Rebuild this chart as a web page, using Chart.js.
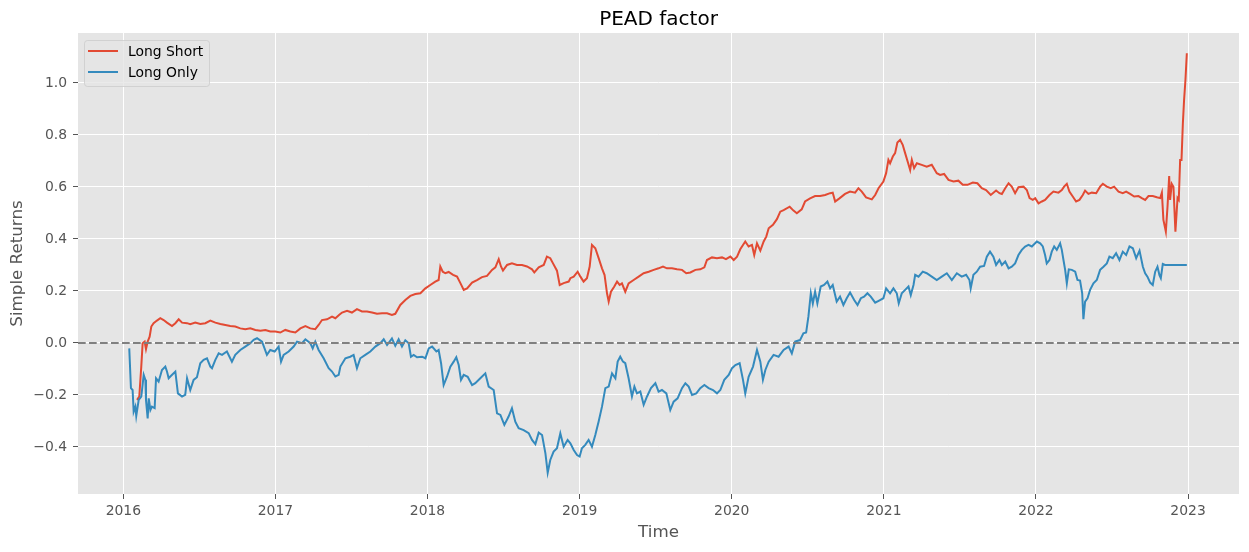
<!DOCTYPE html>
<html>
<head>
<meta charset="utf-8">
<script src="https://cdn.jsdelivr.net/npm/chart.js@4.4.1/dist/chart.umd.min.js"></script>
<style>
  body { margin: 0; background: #fff; }
</style>
</head>
<body>
<canvas id="canvas" width="1249" height="552"></canvas>
<script>
// time in decimal years, returns
var longShortTime = [
  2016.090,2016.105,2016.118,2016.127,2016.140,2016.149,2016.160,2016.173,2016.184,2016.199,
  2016.221,2016.243,2016.265,2016.287,2016.320,2016.342,2016.364,2016.386,2016.419,2016.440,
  2016.473,2016.506,2016.539,2016.572,2016.605,2016.638,2016.671,2016.703,2016.736,2016.769,
  2016.802,2016.835,2016.868,2016.901,2016.934,2016.966,2016.999,2017.032,2017.065,2017.098,
  2017.131,2017.164,2017.197,2017.229,2017.262,2017.284,2017.306,2017.339,2017.372,2017.394,
  2017.420,2017.438,2017.471,2017.503,2017.536,2017.569,2017.602,2017.635,2017.668,2017.701,
  2017.734,2017.766,2017.788,2017.821,2017.854,2017.887,2017.920,2017.953,2017.986,2018.018,
  2018.051,2018.073,2018.084,2018.100,2018.117,2018.139,2018.168,2018.194,2018.216,2018.238,
  2018.260,2018.293,2018.325,2018.358,2018.391,2018.424,2018.446,2018.468,2018.483,2018.496,
  2018.523,2018.555,2018.588,2018.621,2018.654,2018.687,2018.702,2018.731,2018.764,2018.785,
  2018.807,2018.825,2018.851,2018.869,2018.895,2018.928,2018.939,2018.961,2018.987,2019.005,
  2019.026,2019.048,2019.066,2019.081,2019.103,2019.125,2019.147,2019.164,2019.180,2019.191,
  2019.206,2019.228,2019.246,2019.263,2019.278,2019.300,2019.322,2019.355,2019.388,2019.421,
  2019.454,2019.487,2019.519,2019.548,2019.574,2019.607,2019.640,2019.673,2019.701,2019.728,
  2019.761,2019.793,2019.820,2019.837,2019.870,2019.903,2019.936,2019.962,2019.991,2020.013,
  2020.035,2020.056,2020.089,2020.111,2020.133,2020.148,2020.166,2020.188,2020.210,2020.227,
  2020.243,2020.271,2020.297,2020.319,2020.341,2020.381,2020.406,2020.428,2020.460,2020.482,
  2020.515,2020.548,2020.581,2020.614,2020.647,2020.664,2020.680,2020.708,2020.745,2020.778,
  2020.811,2020.833,2020.855,2020.883,2020.921,2020.943,2020.965,2020.997,2021.015,2021.030,
  2021.041,2021.059,2021.074,2021.089,2021.107,2021.124,2021.140,2021.157,2021.173,2021.184,
  2021.199,2021.217,2021.249,2021.282,2021.315,2021.348,2021.370,2021.396,2021.425,2021.458,
  2021.490,2021.519,2021.550,2021.585,2021.615,2021.644,2021.672,2021.703,2021.738,2021.760,
  2021.776,2021.798,2021.820,2021.841,2021.863,2021.885,2021.918,2021.940,2021.958,2021.979,
  2021.995,2022.017,2022.039,2022.060,2022.089,2022.115,2022.148,2022.170,2022.185,2022.203,
  2022.220,2022.242,2022.264,2022.286,2022.308,2022.323,2022.345,2022.367,2022.396,2022.422,
  2022.440,2022.466,2022.492,2022.514,2022.543,2022.571,2022.593,2022.619,2022.646,2022.674,
  2022.696,2022.718,2022.740,2022.768,2022.795,2022.817,2022.828,2022.838,2022.854,2022.865,
  2022.876,2022.882,2022.893,2022.904,2022.917,2022.931,2022.939,2022.948,2022.957,2022.966,
  2022.974,2022.983,2022.992
];
var longShortRet = [
  -0.219,-0.206,-0.091,-0.001,0.005,-0.024,0.005,0.024,0.063,0.076,
  0.086,0.095,0.088,0.078,0.065,0.076,0.091,0.078,0.076,0.072,
  0.078,0.073,0.076,0.086,0.078,0.073,0.069,0.065,0.063,0.056,
  0.053,0.056,0.050,0.047,0.050,0.044,0.044,0.040,0.050,0.044,
  0.040,0.056,0.065,0.056,0.053,0.069,0.088,0.091,0.101,0.095,
  0.108,0.117,0.124,0.117,0.130,0.121,0.121,0.117,0.112,0.114,
  0.114,0.108,0.112,0.146,0.165,0.181,0.188,0.191,0.210,0.223,
  0.236,0.242,0.294,0.274,0.268,0.273,0.262,0.255,0.230,0.204,
  0.210,0.232,0.242,0.253,0.258,0.281,0.291,0.322,0.294,0.278,
  0.300,0.306,0.300,0.300,0.294,0.283,0.271,0.291,0.300,0.332,
  0.326,0.306,0.278,0.223,0.230,0.236,0.249,0.255,0.274,0.255,
  0.236,0.249,0.294,0.377,0.364,0.326,0.287,0.261,0.191,0.159,
  0.197,0.217,0.236,0.223,0.229,0.197,0.229,0.242,0.255,0.268,
  0.274,0.281,0.287,0.294,0.287,0.287,0.283,0.281,0.268,0.271,
  0.281,0.283,0.291,0.319,0.329,0.326,0.329,0.322,0.332,0.319,
  0.332,0.360,0.390,0.371,0.377,0.338,0.383,0.355,0.390,0.409,
  0.441,0.454,0.476,0.505,0.511,0.524,0.509,0.499,0.514,0.544,
  0.556,0.565,0.565,0.569,0.576,0.578,0.544,0.556,0.573,0.582,
  0.578,0.595,0.582,0.560,0.552,0.569,0.595,0.621,0.653,0.704,
  0.691,0.717,0.730,0.771,0.781,0.762,0.730,0.697,0.665,0.704,
  0.672,0.691,0.685,0.678,0.685,0.653,0.646,0.650,0.627,0.621,
  0.624,0.608,0.608,0.617,0.614,0.595,0.588,0.569,0.586,0.576,
  0.573,0.595,0.614,0.601,0.576,0.599,0.601,0.588,0.557,0.550,
  0.557,0.537,0.544,0.550,0.569,0.582,0.578,0.588,0.601,0.612,
  0.582,0.563,0.544,0.550,0.569,0.586,0.573,0.578,0.576,0.601,
  0.612,0.601,0.595,0.601,0.582,0.576,0.582,0.573,0.563,0.565,
  0.557,0.550,0.565,0.565,0.560,0.557,0.578,0.473,0.428,0.524,
  0.642,0.550,0.612,0.601,0.428,0.557,0.550,0.704,0.704,0.845,
  0.935,1.012,1.114
];
var longOnlyTime = [
  2016.039,2016.050,2016.061,2016.068,2016.079,2016.085,2016.101,2016.118,2016.134,2016.145,
  2016.149,2016.160,2016.167,2016.178,2016.188,2016.206,2016.215,2016.232,2016.254,2016.276,
  2016.287,2016.298,2016.309,2016.342,2016.359,2016.386,2016.407,2016.419,2016.440,2016.462,
  2016.484,2016.506,2016.528,2016.550,2016.572,2016.583,2016.605,2016.627,2016.649,2016.681,
  2016.714,2016.736,2016.769,2016.802,2016.835,2016.857,2016.879,2016.912,2016.944,2016.966,
  2016.995,2017.021,2017.037,2017.054,2017.087,2017.120,2017.142,2017.175,2017.197,2017.229,
  2017.245,2017.262,2017.284,2017.317,2017.350,2017.372,2017.394,2017.416,2017.427,2017.460,
  2017.492,2017.514,2017.536,2017.558,2017.591,2017.624,2017.657,2017.690,2017.712,2017.734,
  2017.766,2017.788,2017.810,2017.832,2017.854,2017.876,2017.891,2017.909,2017.931,2017.964,
  2017.986,2018.008,2018.030,2018.058,2018.073,2018.089,2018.106,2018.128,2018.150,2018.172,
  2018.189,2018.205,2018.220,2018.238,2018.264,2018.293,2018.314,2018.347,2018.380,2018.402,
  2018.435,2018.457,2018.479,2018.505,2018.533,2018.555,2018.577,2018.599,2018.632,2018.665,
  2018.687,2018.709,2018.731,2018.753,2018.775,2018.790,2018.807,2018.829,2018.851,2018.873,
  2018.895,2018.921,2018.939,2018.961,2018.983,2019.000,2019.015,2019.037,2019.059,2019.081,
  2019.103,2019.125,2019.147,2019.169,2019.191,2019.213,2019.235,2019.250,2019.267,2019.285,
  2019.300,2019.322,2019.344,2019.360,2019.377,2019.399,2019.421,2019.443,2019.469,2019.498,
  2019.519,2019.541,2019.570,2019.596,2019.618,2019.644,2019.673,2019.695,2019.717,2019.739,
  2019.767,2019.793,2019.820,2019.848,2019.877,2019.903,2019.925,2019.951,2019.980,2020.002,
  2020.024,2020.052,2020.074,2020.089,2020.111,2020.140,2020.166,2020.188,2020.205,2020.221,
  2020.243,2020.275,2020.308,2020.341,2020.374,2020.395,2020.417,2020.449,2020.471,2020.489,
  2020.504,2020.520,2020.533,2020.548,2020.563,2020.585,2020.607,2020.629,2020.647,2020.664,
  2020.690,2020.712,2020.734,2020.756,2020.778,2020.805,2020.827,2020.849,2020.870,2020.892,
  2020.914,2020.943,2020.975,2020.997,2021.015,2021.041,2021.063,2021.085,2021.098,2021.118,
  2021.140,2021.162,2021.177,2021.195,2021.206,2021.228,2021.256,2021.282,2021.315,2021.348,
  2021.381,2021.414,2021.447,2021.480,2021.512,2021.541,2021.563,2021.571,2021.589,2021.611,
  2021.633,2021.659,2021.677,2021.698,2021.720,2021.738,2021.760,2021.776,2021.798,2021.820,
  2021.841,2021.863,2021.885,2021.907,2021.929,2021.951,2021.973,2022.006,2022.028,2022.045,
  2022.060,2022.071,2022.089,2022.104,2022.120,2022.137,2022.159,2022.170,2022.181,2022.192,
  2022.203,2022.216,2022.236,2022.258,2022.273,2022.290,2022.304,2022.312,2022.323,2022.339,
  2022.356,2022.378,2022.400,2022.422,2022.444,2022.466,2022.483,2022.505,2022.527,2022.549,
  2022.571,2022.593,2022.615,2022.637,2022.659,2022.681,2022.703,2022.718,2022.733,2022.751,
  2022.768,2022.784,2022.799,2022.812,2022.821,2022.834,2022.849,2022.992
];
var longOnlyRet = [
  -0.021,-0.174,-0.181,-0.264,-0.245,-0.281,-0.219,-0.206,-0.123,-0.142,
  -0.219,-0.290,-0.213,-0.258,-0.245,-0.251,-0.136,-0.149,-0.104,-0.091,
  -0.110,-0.136,-0.129,-0.110,-0.194,-0.206,-0.200,-0.136,-0.181,-0.142,
  -0.132,-0.078,-0.065,-0.059,-0.091,-0.097,-0.065,-0.040,-0.046,-0.033,
  -0.072,-0.046,-0.027,-0.014,-0.001,0.012,0.018,0.005,-0.046,-0.027,
  -0.033,-0.014,-0.072,-0.046,-0.033,-0.014,0.005,-0.001,0.014,-0.001,
  -0.021,0.005,-0.027,-0.059,-0.097,-0.110,-0.129,-0.123,-0.091,-0.059,
  -0.053,-0.046,-0.097,-0.059,-0.046,-0.033,-0.014,-0.001,0.014,-0.008,
  0.017,-0.011,0.014,-0.014,0.010,-0.001,-0.053,-0.046,-0.055,-0.053,
  -0.059,-0.021,-0.014,-0.033,-0.027,-0.078,-0.162,-0.130,-0.091,-0.072,
  -0.055,-0.085,-0.142,-0.123,-0.130,-0.162,-0.155,-0.136,-0.117,-0.168,
  -0.181,-0.271,-0.277,-0.315,-0.283,-0.251,-0.303,-0.328,-0.335,-0.347,
  -0.373,-0.389,-0.345,-0.354,-0.425,-0.499,-0.450,-0.418,-0.405,-0.348,
  -0.399,-0.373,-0.386,-0.412,-0.431,-0.437,-0.405,-0.392,-0.373,-0.399,
  -0.354,-0.302,-0.245,-0.174,-0.168,-0.117,-0.136,-0.072,-0.053,-0.072,
  -0.078,-0.136,-0.206,-0.168,-0.194,-0.187,-0.238,-0.206,-0.174,-0.155,
  -0.187,-0.181,-0.194,-0.258,-0.226,-0.213,-0.174,-0.155,-0.168,-0.200,
  -0.194,-0.174,-0.162,-0.174,-0.181,-0.194,-0.181,-0.142,-0.123,-0.097,
  -0.085,-0.078,-0.142,-0.194,-0.130,-0.091,-0.027,-0.072,-0.142,-0.104,
  -0.072,-0.046,-0.053,-0.027,-0.014,-0.040,0.005,0.011,0.037,0.040,
  0.101,0.191,0.152,0.197,0.152,0.217,0.223,0.236,0.210,0.223,
  0.159,0.178,0.146,0.172,0.194,0.165,0.146,0.172,0.178,0.191,
  0.178,0.155,0.165,0.172,0.210,0.191,0.210,0.191,0.152,0.191,
  0.204,0.217,0.184,0.223,0.262,0.255,0.274,0.268,0.255,0.242,
  0.255,0.268,0.242,0.268,0.255,0.262,0.242,0.210,0.262,0.274,
  0.293,0.296,0.332,0.351,0.332,0.300,0.319,0.300,0.313,0.287,
  0.293,0.306,0.338,0.358,0.371,0.377,0.371,0.390,0.383,0.371,
  0.338,0.306,0.319,0.351,0.371,0.358,0.383,0.358,0.319,0.281,
  0.229,0.283,0.281,0.274,0.242,0.240,0.191,0.091,0.159,0.172,
  0.204,0.229,0.242,0.281,0.293,0.306,0.332,0.326,0.345,0.319,
  0.351,0.338,0.371,0.364,0.326,0.355,0.293,0.268,0.255,0.232,
  0.223,0.274,0.293,0.261,0.249,0.304,0.300,0.300
];

var yearTicks = [2016, 2017, 2018, 2019, 2020, 2021, 2022, 2023];
var returnTicks = [-0.4, -0.2, 0.0, 0.2, 0.4, 0.6, 0.8, 1.0];
var seriesNames = ['Long Short', 'Long Only'];
var seriesColors = ['#E24A33', '#348ABD'];
var chartTitle = 'PEAD factor';

var xMin = 2015.702, xMax = 2023.335;
var yMin = -0.581, yMax = 1.192;
var FONT = 'DejaVu Sans';

function toPoints(xs, ys) {
  var pts = [];
  for (var i = 0; i < Math.min(xs.length, ys.length); i++) pts.push({x: xs[i], y: ys[i]});
  return pts;
}

function fmtTick(v) {
  var s = Math.abs(v).toFixed(1);
  return v < -1e-9 ? '\u2212' + s : s;
}

// grey panel behind the plot, ggplot style
var panelBg = {
  id: 'panelBg',
  beforeDraw: function(chart) {
    var a = chart.chartArea, ctx = chart.ctx;
    ctx.save();
    ctx.fillStyle = '#E5E5E5';
    ctx.fillRect(a.left, a.top, a.right - a.left, a.bottom - a.top);
    ctx.restore();
  }
};

// title centred over the plot area (matplotlib centres on the axes, not the figure)
var axesTitle = {
  id: 'axesTitle',
  afterDraw: function(chart) {
    var a = chart.chartArea, ctx = chart.ctx;
    ctx.save();
    ctx.font = '20px "' + FONT + '"';
    ctx.fillStyle = '#000';
    ctx.textAlign = 'center';
    ctx.textBaseline = 'alphabetic';
    ctx.fillText(chartTitle, (a.left + a.right) / 2, 25);
    ctx.restore();
  }
};

// matplotlib-like legend box in the upper left corner
var boxLegend = {
  id: 'boxLegend',
  afterDraw: function(chart) {
    var ctx = chart.ctx, a = chart.chartArea;
    var bx = a.left + 6, by = a.top + 7, bw = 125, bh = 46;
    ctx.save();
    ctx.beginPath();
    ctx.roundRect(bx + 0.5, by + 0.5, bw, bh, 3);
    ctx.fillStyle = 'rgba(229,229,229,0.8)';
    ctx.fill();
    ctx.strokeStyle = 'rgba(204,204,204,0.8)';
    ctx.lineWidth = 1;
    ctx.stroke();
    ctx.font = '13.9px "' + FONT + '"';
    ctx.textBaseline = 'middle';
    ctx.textAlign = 'left';
    for (var i = 0; i < seriesNames.length; i++) {
      var ly = by + 11 + i * 21;
      ctx.beginPath();
      ctx.moveTo(bx + 4, ly);
      ctx.lineTo(bx + 34, ly);
      ctx.strokeStyle = seriesColors[i];
      ctx.lineWidth = 2;
      ctx.stroke();
      ctx.fillStyle = '#000';
      ctx.fillText(seriesNames[i], bx + 44, ly + 1);
    }
    ctx.restore();
  }
};

var ctx = document.getElementById('canvas').getContext('2d');
window.myChart = new Chart(ctx, {
  type: 'line',
  data: {
    datasets: [
      {
        label: 'zero',
        data: [{x: xMin, y: 0}, {x: xMax, y: 0}],
        borderColor: '#808080',
        borderWidth: 2,
        borderDash: [7.7, 3.3],
        pointRadius: 0,
        order: 0
      },
      {
        label: seriesNames[1],
        data: toPoints(longOnlyTime, longOnlyRet),
        borderColor: seriesColors[1],
        borderWidth: 2,
        pointRadius: 0,
        tension: 0,
        order: 1
      },
      {
        label: seriesNames[0],
        data: toPoints(longShortTime, longShortRet),
        borderColor: seriesColors[0],
        borderWidth: 2,
        pointRadius: 0,
        tension: 0,
        order: 2
      }
    ]
  },
  options: {
    responsive: false,
    animation: false,
    devicePixelRatio: 1,
    layout: { padding: { left: 0, right: 10, top: 33, bottom: 0 } },
    plugins: {
      legend: { display: false },
      tooltip: { enabled: false },
      title: { display: false }
    },
    scales: {
      x: {
        type: 'linear',
        min: xMin,
        max: xMax,
        afterBuildTicks: function(scale) {
          scale.ticks = yearTicks.map(function(v) { return {value: v}; });
        },
        afterFit: function(scale) { scale.height = 58; },
        border: { display: false },
        grid: { color: '#FFFFFF', lineWidth: 1, tickColor: '#555555', tickLength: 5, tickWidth: 1 },
        ticks: {
          color: '#555555',
          font: { family: FONT, size: 13.9 },
          padding: 4,
          maxRotation: 0,
          autoSkip: false,
          callback: function(v) { return String(v); }
        },
        title: {
          display: true,
          text: 'Time',
          color: '#555555',
          font: { family: FONT, size: 16.7 },
          padding: { top: 0, bottom: 9.5 }
        }
      },
      y: {
        min: yMin,
        max: yMax,
        afterBuildTicks: function(scale) {
          scale.ticks = returnTicks.map(function(v) { return {value: v}; });
        },
        afterFit: function(scale) { scale.width = 78; },
        border: { display: false },
        grid: { color: '#FFFFFF', lineWidth: 1, tickColor: '#555555', tickLength: 5, tickWidth: 1 },
        ticks: {
          color: '#555555',
          font: { family: FONT, size: 13.9 },
          padding: 6,
          callback: function(v) { return fmtTick(v); }
        },
        title: {
          display: true,
          text: 'Simple Returns',
          color: '#555555',
          font: { family: FONT, size: 16.7 },
          padding: { top: 7.5, bottom: 0 }
        }
      }
    }
  },
  plugins: [panelBg, axesTitle, boxLegend]
});
</script>
</body>
</html>
